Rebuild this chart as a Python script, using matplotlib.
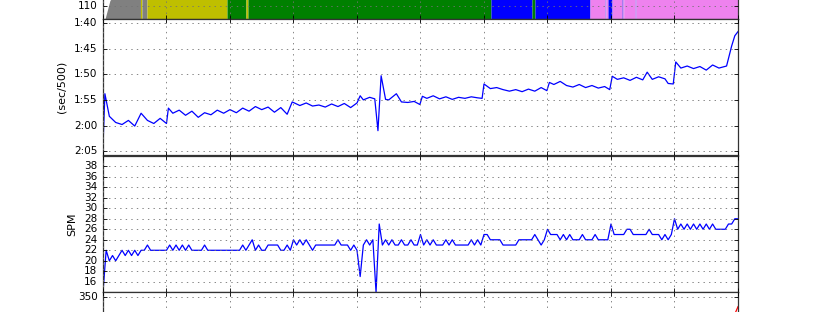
import numpy as np
import matplotlib
matplotlib.use('Agg')
import matplotlib.pyplot as plt
from matplotlib.ticker import MultipleLocator, FuncFormatter

# distance (m) / pace (sec per 500m)
pace_dist = [0, 30, 100, 200, 300, 400, 500, 600, 700, 800, 900, 1000,
             1030, 1100, 1200, 1300, 1400, 1500, 1600, 1700, 1800, 1900,
             2000, 2100, 2200, 2300, 2400, 2500, 2600, 2700, 2800, 2900,
             2980, 3100, 3200, 3300, 3400, 3500, 3600, 3700, 3800, 3900,
             4000, 4050, 4100, 4200, 4280, 4330, 4380, 4450, 4500, 4620,
             4700, 4800, 4900, 4990, 5030, 5100, 5200, 5300, 5400, 5500,
             5600, 5700, 5800, 5900, 5970, 6000, 6100, 6200, 6300, 6400,
             6500, 6600, 6700, 6800, 6900, 6990, 7030, 7100, 7200, 7300,
             7400, 7500, 7600, 7700, 7800, 7900, 7980, 8020, 8100, 8200,
             8300, 8400, 8500, 8570, 8650, 8750, 8850, 8900, 8980, 9020,
             9100, 9200, 9300, 9400, 9500, 9600, 9700, 9820, 9900, 9950,
             10000]
pace_sec = [124.0, 113.8, 118.2, 119.4, 119.8, 119.0, 120.1, 117.6, 119.0, 119.6, 118.6, 119.6,
            116.6, 117.6, 117.0, 118.0, 117.2, 118.4, 117.5, 117.9, 117.0, 117.6,
            116.9, 117.5, 116.6, 117.2, 116.3, 116.9, 116.4, 117.4, 116.5, 117.8,
            115.4, 116.1, 115.6, 116.2, 116.0, 116.4, 115.8, 116.3, 115.7, 116.5,
            115.6, 114.2, 115.0, 114.5, 114.8, 121.0, 110.3, 114.9, 115.0, 113.8,
            115.4, 115.5, 115.3, 115.9, 114.3, 114.7, 114.2, 114.8, 114.4, 114.9,
            114.5, 114.7, 114.4, 114.6, 114.7, 111.9, 112.8, 112.6, 113.0, 113.3,
            113.0, 113.4, 112.9, 113.3, 112.6, 113.2, 111.6, 112.0, 111.4, 112.2,
            112.5, 112.0, 112.6, 112.2, 112.7, 112.4, 113.0, 110.4, 111.0, 110.7,
            111.2, 110.6, 111.1, 109.6, 111.0, 110.5, 110.9, 111.8, 111.9, 107.6,
            108.8, 108.4, 108.9, 108.5, 109.2, 108.2, 108.8, 108.4, 104.5, 102.5,
            101.7]

# stroke rate, one sample every 50 m
spm_dist = list(range(0, 10001, 50))
spm = [14, 22, 20, 21, 20, 21, 22, 21, 22, 21,
       22, 21, 22, 22, 23, 22, 22, 22, 22, 22,
       22, 23, 22, 23, 22, 23, 22, 23, 22, 22,
       22, 22, 23, 22, 22, 22, 22, 22, 22, 22,
       22, 22, 22, 22, 23, 22, 23, 24, 22, 23,
       22, 22, 23, 23, 23, 23, 22, 22, 23, 22,
       24, 23, 24, 23, 24, 23, 22, 23, 23, 23,
       23, 23, 23, 23, 24, 23, 23, 23, 22, 23,
       22, 17, 23, 24, 23, 24, 14, 27, 23, 24,
       23, 24, 23, 23, 24, 23, 23, 24, 23, 23,
       25, 23, 24, 23, 24, 23, 23, 23, 24, 23,
       24, 23, 23, 23, 23, 23, 24, 23, 24, 23,
       25, 25, 24, 24, 24, 24, 23, 23, 23, 23,
       23, 24, 24, 24, 24, 24, 25, 24, 23, 24,
       26, 25, 25, 25, 24, 25, 24, 25, 24, 24,
       24, 25, 24, 24, 24, 25, 24, 24, 24, 24,
       27, 25, 25, 25, 25, 26, 26, 25, 25, 25,
       25, 25, 26, 25, 25, 25, 24, 25, 24, 25,
       28, 26, 27, 26, 27, 26, 27, 26, 27, 26,
       27, 26, 27, 26, 26, 26, 26, 27, 27, 28,
       28]

# heart rate and zones
hr_dist = [0, 30, 110, 400, 1000, 2000, 4000, 6000, 8000, 10000]
hr_bpm = [92, 100, 114, 128, 135, 142, 146, 150, 158, 165]
zone_start = [0, 590, 614, 693, 1953, 2252, 2283, 6110, 6756, 6803, 7669,
              7905, 7920, 7953, 8016, 8165, 8180, 8190, 8200, 8380, 8395]
zone_end = [590, 614, 693, 1953, 2252, 2283, 6110, 6756, 6803, 7669, 7905,
            7920, 7953, 8016, 8165, 8180, 8190, 8200, 8380, 8395, 10000]
zone_color = ['#808080', '#bfbf00', '#808080', '#bfbf00', 'g', '#bfbf00', 'g',
              'b', 'g', 'b', 'violet', '#9a70f0', 'violet', 'b', 'violet',
              '#9a70f0', 'violet', '#9a70f0', 'violet', '#9a70f0', 'violet']

# power (only the end reaches the visible part)
power_dist = [9700, 9820, 9900, 9950, 10000]
power_w = [262, 266, 300, 318, 332]

plt.style.use('classic')
plt.rcParams['font.size'] = 7.5
plt.rcParams['axes.linewidth'] = 0.9
plt.rcParams['axes.edgecolor'] = '#333333'

fig = plt.figure(figsize=(8.2, 3.12), dpi=100)
fig.patch.set_facecolor('white')
left, width = 0.1256, 0.7744
ax_hr = fig.add_axes([left, 0.9381, width, 0.4359])
ax_pace = fig.add_axes([left, 0.5022, width, 0.4359], sharex=ax_hr)
ax_spm = fig.add_axes([left, 0.0631, width, 0.4378], sharex=ax_hr)
ax_pw = fig.add_axes([left, -0.372, width, 0.4359], sharex=ax_hr)

hd = np.array(hr_dist)
for s, e, c in zip(zone_start, zone_end, zone_color):
    xs = np.concatenate([[s], hd[(hd > s) & (hd < e)], [e]])
    ys = np.interp(xs, hr_dist, hr_bpm)
    ax_hr.fill_between(xs, 0, ys, color=c, lw=0)
ax_hr.set_ylim(100, 200)
ax_hr.set_yticks([110])

ax_pace.plot(pace_dist, pace_sec, color='b', lw=0.9)
ax_pace.set_ylim(125.8, 99.3)
ax_pace.yaxis.set_major_locator(MultipleLocator(5))
ax_pace.yaxis.set_major_formatter(FuncFormatter(lambda v, p: '%d:%02d' % divmod(int(round(v)), 60)))
ax_pace.set_ylabel('(sec/500)', fontsize=8)

ax_spm.plot(spm_dist, spm, color='b', lw=0.9)
ax_spm.set_ylim(14, 40)
ax_spm.set_yticks(range(16, 40, 2))
ax_spm.set_ylabel('SPM', fontsize=8)

ax_pw.plot(power_dist, power_w, color='r', lw=0.9)
ax_pw.set_ylim(100, 360)
ax_pw.set_yticks([350])

for ax in (ax_hr, ax_pace, ax_spm, ax_pw):
    ax.set_xlim(0, 10000)
    ax.xaxis.set_major_locator(MultipleLocator(1000))
    ax.grid(True, color='0.45', linestyle=':', linewidth=0.6)
    ax.tick_params(labelbottom=False, length=3, width=0.6, labelsize=7.5)
    ax.tick_params(which='minor', length=0)

fig.savefig('out.png', dpi=100)
